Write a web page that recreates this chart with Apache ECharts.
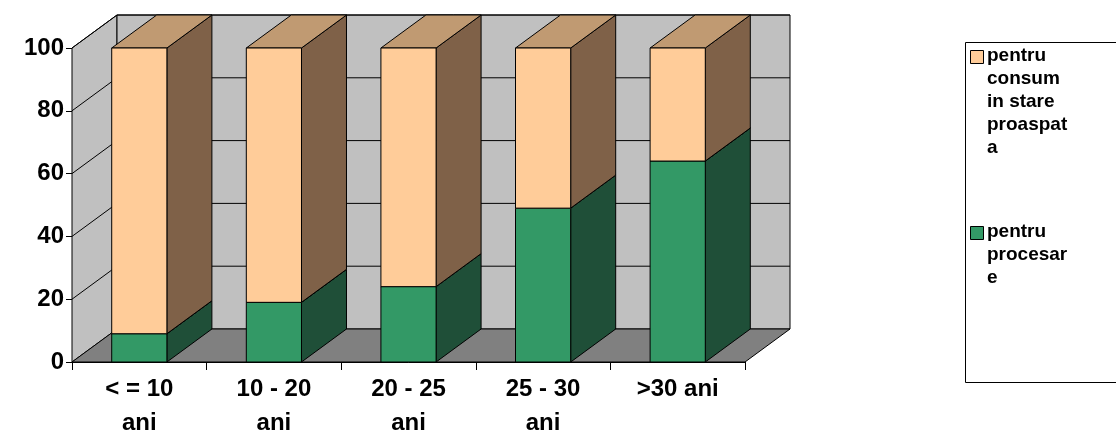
<!doctype html>
<html>
<head>
<meta charset="UTF-8">
<script src="https://cdn.jsdelivr.net/npm/echarts@6/dist/echarts.min.js"></script>
<style>body{margin:0;background:#fff}#main{width:1116px;height:446px}</style>
</head>
<body>
<div id="main"></div>
<script>
var categories = ['< = 10\nani', '10 - 20\nani', '20 - 25\nani', '25 - 30\nani', '>30 ani'];
var procesare = [9, 19, 24, 49, 64];
var proaspat = [91, 81, 76, 51, 36];
var seriesNames = ['pentru\nconsum\nin stare\nproaspat\na', 'pentru\nprocesar\ne'];

var DX = 45, DY = -33;
var faces = {
    green: { front: '#339966', side: '#1f4f38', top: '#2a7f55' },
    orange: { front: '#FFCC99', side: '#7f6148', top: '#c09a72' }
};

function barData(vals, base) {
    return vals.map(function (v, i) { return [i, base ? base[i] : 0, (base ? base[i] : 0) + v]; });
}

function renderBar(col) {
    return function (params, api) {
        var i = api.value(0);
        var p0 = api.coord([i, api.value(1)]);
        var p1 = api.coord([i, api.value(2)]);
        var w = api.size([1, 0])[0] * 0.41;
        var xl = p0[0] - w / 2, xr = p0[0] + w / 2;
        var s = { stroke: '#000', lineWidth: 1 };
        return {
            type: 'group',
            children: [
                { type: 'polygon', shape: { points: [[xr, p0[1]], [xr + DX, p0[1] + DY], [xr + DX, p1[1] + DY], [xr, p1[1]]] },
                  style: Object.assign({ fill: col.side }, s) },
                { type: 'polygon', shape: { points: [[xl, p1[1]], [xr, p1[1]], [xr + DX, p1[1] + DY], [xl + DX, p1[1] + DY]] },
                  style: Object.assign({ fill: col.top }, s) },
                { type: 'rect', shape: { x: xl, y: p1[1], width: w, height: p0[1] - p1[1] },
                  style: Object.assign({ fill: col.front }, s) }
            ]
        };
    };
}

function renderWalls(params, api) {
    var cs = params.coordSys;
    var x0 = cs.x, x1 = cs.x + cs.width;
    var yb = api.coord([0, 0])[1], yt = api.coord([0, 100])[1];
    var s = { stroke: '#000', lineWidth: 1 };
    var kids = [
        { type: 'polygon', shape: { points: [[x0, yb], [x0 + DX, yb + DY], [x0 + DX, yt + DY], [x0, yt]] }, style: Object.assign({ fill: '#c0c0c0' }, s) },
        { type: 'rect', shape: { x: x0 + DX, y: yt + DY, width: x1 - x0, height: yb - yt }, style: Object.assign({ fill: '#c0c0c0' }, s) },
        { type: 'polygon', shape: { points: [[x0, yb], [x1, yb], [x1 + DX, yb + DY], [x0 + DX, yb + DY]] }, style: Object.assign({ fill: '#808080' }, s) }
    ];
    for (var v = 20; v <= 100; v += 20) {
        var y = api.coord([0, v])[1];
        kids.push({ type: 'polyline', shape: { points: [[x0, y], [x0 + DX, y + DY], [x1 + DX, y + DY]] }, style: { stroke: '#000', fill: null, lineWidth: 1 } });
    }
    return { type: 'group', children: kids };
}

var legendFont = { fontFamily: 'Liberation Sans', fontWeight: 'bold', fontSize: 19, lineHeight: 23, fill: '#000' };

var chart = echarts.init(document.getElementById('main'));
chart.setOption({
    animation: false,
    grid: { left: 72, right: 371, top: 48, bottom: 84, containLabel: false, outerBoundsMode: 'none' },
    graphic: [
        { type: 'rect', left: 963, top: 40, shape: { width: 160, height: 340 }, style: { fill: null, stroke: '#000', lineWidth: 1 } },
        { type: 'rect', left: 970, top: 50, shape: { width: 13, height: 13 }, style: { fill: '#FFCC99', stroke: '#000', lineWidth: 1 } },
        { type: 'text', left: 987, top: 44, style: Object.assign({ text: seriesNames[0] }, legendFont) },
        { type: 'rect', left: 970, top: 226, shape: { width: 13, height: 13 }, style: { fill: '#339966', stroke: '#000', lineWidth: 1 } },
        { type: 'text', left: 987, top: 220, style: Object.assign({ text: seriesNames[1] }, legendFont) }
    ],
    xAxis: {
        type: 'category', data: categories,
        axisLine: { lineStyle: { color: '#000' } },
        axisTick: { show: true, alignWithLabel: false, length: 8, lineStyle: { color: '#000' } },
        axisLabel: { fontFamily: 'Liberation Sans', fontWeight: 'bold', fontSize: 24, color: '#000', lineHeight: 34, margin: 10 }
    },
    yAxis: {
        type: 'value', min: 0, max: 100, interval: 20,
        axisLine: { show: true, lineStyle: { color: '#000' } },
        axisTick: { show: true, length: 6, lineStyle: { color: '#000' } },
        splitLine: { show: false },
        axisLabel: { fontFamily: 'Liberation Sans', fontWeight: 'bold', fontSize: 24, color: '#000', margin: 8 }
    },
    series: [
        { type: 'custom', name: 'walls', silent: true, renderItem: renderWalls, data: [[0, 0]], z: 1 },
        { type: 'custom', name: 'pentru procesare', renderItem: renderBar(faces.green), data: barData(procesare), encode: { x: 0, y: [1, 2] }, z: 2 },
        { type: 'custom', name: 'pentru consum in stare proaspata', renderItem: renderBar(faces.orange), data: barData(proaspat, procesare), encode: { x: 0, y: [1, 2] }, z: 3 }
    ]
});
</script>
</body>
</html>
